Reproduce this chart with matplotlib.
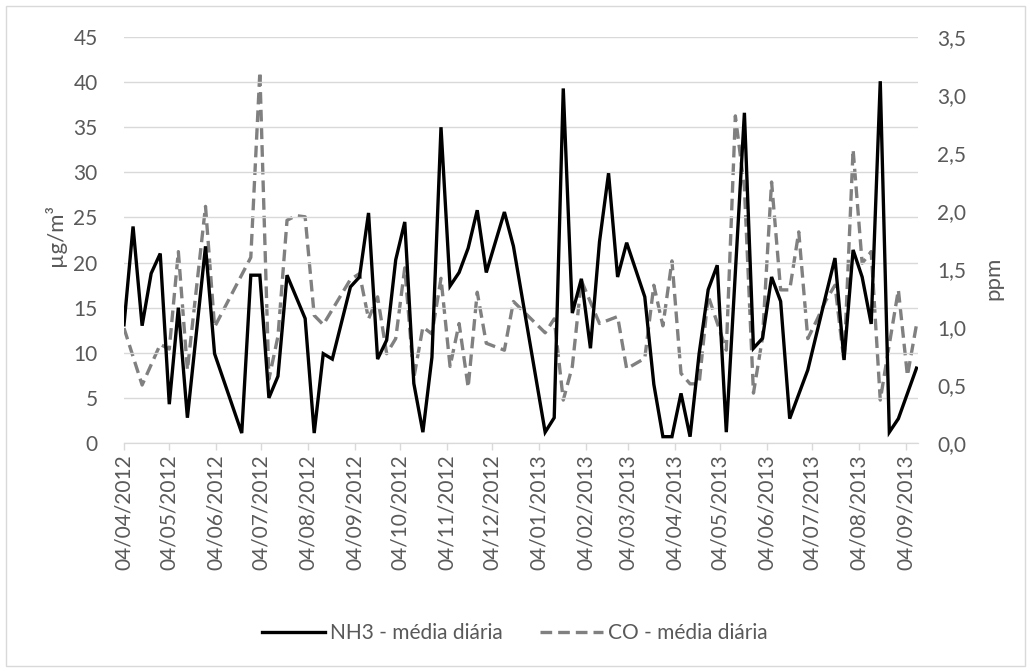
import matplotlib
matplotlib.use("Agg")
import matplotlib.pyplot as plt
import matplotlib.dates as mdates
from matplotlib.patches import Rectangle
from matplotlib.lines import Line2D
from matplotlib.ticker import FuncFormatter
import pandas as pd

# NH3 (µg/m³) - média diária
nh3_dates = [
    "2012-04-04", "2012-04-10", "2012-04-16", "2012-04-22", "2012-04-28",
    "2012-05-04", "2012-05-10", "2012-05-16", "2012-05-28", "2012-06-03",
    "2012-06-21", "2012-06-27", "2012-07-03", "2012-07-09", "2012-07-15",
    "2012-07-21", "2012-08-02", "2012-08-08", "2012-08-14", "2012-08-20",
    "2012-09-01", "2012-09-07", "2012-09-13", "2012-09-19", "2012-09-25",
    "2012-10-01", "2012-10-07", "2012-10-13", "2012-10-19", "2012-10-25",
    "2012-10-31", "2012-11-06", "2012-11-12", "2012-11-18", "2012-11-24",
    "2012-11-30", "2012-12-12", "2012-12-18", "2013-01-08", "2013-01-14",
    "2013-01-20", "2013-01-26", "2013-02-01", "2013-02-07", "2013-02-13",
    "2013-02-19", "2013-02-25", "2013-03-03", "2013-03-15", "2013-03-21",
    "2013-03-27", "2013-04-02", "2013-04-08", "2013-04-14", "2013-04-20",
    "2013-04-26", "2013-05-02", "2013-05-08", "2013-05-20", "2013-05-26",
    "2013-06-01", "2013-06-07", "2013-06-13", "2013-06-19", "2013-07-01",
    "2013-07-13", "2013-07-19", "2013-07-25", "2013-07-31", "2013-08-06",
    "2013-08-12", "2013-08-18", "2013-08-24", "2013-08-30", "2013-09-11",
]
nh3_vals = [
    13.1, 24.0, 13.0, 18.8, 21.0,
    4.3, 15.0, 2.8, 21.8, 9.9,
    1.1, 18.6, 18.6, 5.0, 7.4,
    18.6, 13.8, 1.1, 9.9, 9.3,
    17.3, 18.4, 25.5, 9.3, 11.4,
    20.3, 24.5, 6.6, 1.2, 9.5,
    35.0, 17.4, 18.9, 21.6, 25.8,
    18.9, 25.6, 21.8, 1.2, 2.8,
    39.3, 14.4, 18.2, 10.5, 22.3,
    29.9, 18.4, 22.2, 16.2, 6.5,
    0.7, 0.7, 5.5, 0.7, 9.9,
    17.0, 19.7, 1.2, 36.6, 10.5,
    11.6, 18.4, 15.7, 2.7, 8.1,
    16.4, 20.5, 9.2, 21.4, 18.4,
    13.2, 40.1, 1.2, 2.7, 8.3,
]

# CO (ppm) - média diária
co_dates = [
    "2012-04-04", "2012-04-16", "2012-04-28", "2012-05-04", "2012-05-10",
    "2012-05-16", "2012-05-28", "2012-06-03", "2012-06-27", "2012-07-03",
    "2012-07-09", "2012-07-15", "2012-07-21", "2012-07-27", "2012-08-02",
    "2012-08-08", "2012-08-14", "2012-09-01", "2012-09-07", "2012-09-13",
    "2012-09-19", "2012-09-25", "2012-10-01", "2012-10-07", "2012-10-13",
    "2012-10-19", "2012-10-25", "2012-10-31", "2012-11-06", "2012-11-12",
    "2012-11-18", "2012-11-24", "2012-11-30", "2012-12-12", "2012-12-18",
    "2013-01-08", "2013-01-14", "2013-01-20", "2013-01-26", "2013-02-01",
    "2013-02-13", "2013-02-25", "2013-03-03", "2013-03-15", "2013-03-21",
    "2013-03-27", "2013-04-02", "2013-04-08", "2013-04-14", "2013-04-20",
    "2013-04-26", "2013-05-08", "2013-05-14", "2013-05-20", "2013-05-26",
    "2013-06-01", "2013-06-07", "2013-06-13", "2013-06-19", "2013-06-25",
    "2013-07-01", "2013-07-07", "2013-07-13", "2013-07-19", "2013-07-25",
    "2013-07-31", "2013-08-06", "2013-08-12", "2013-08-18", "2013-08-24",
    "2013-08-30", "2013-09-05", "2013-09-11",
]
co_vals = [
    0.99, 0.50, 0.85, 0.81, 1.65,
    0.63, 2.04, 1.00, 1.60, 3.20,
    0.55, 0.92, 1.92, 1.96, 1.95,
    1.10, 1.02, 1.41, 1.46, 1.07,
    1.26, 0.77, 0.90, 1.51, 0.56,
    1.00, 0.94, 1.42, 0.66, 1.03,
    0.48, 1.30, 0.86, 0.80, 1.22,
    0.95, 1.07, 0.37, 0.66, 1.40,
    1.03, 1.09, 0.64, 0.73, 1.36,
    1.01, 1.57, 0.60, 0.51, 0.51,
    1.27, 0.80, 2.82, 2.20, 0.43,
    0.91, 2.25, 1.32, 1.32, 1.82,
    0.90, 1.06, 1.23, 1.36, 0.70,
    2.53, 1.55, 1.65, 0.37, 0.85,
    1.32, 0.58, 1.02,
]

# eixo x mensal, sempre no dia 4
month_ticks = pd.date_range("2012-04-04", "2013-09-04", freq=pd.DateOffset(months=1))

TXT = "#595959"
GRID = "#d9d9d9"
FONT = "Lato"
FS = 15

plt.rcParams["font.family"] = [FONT, "DejaVu Sans"]

fig = plt.figure(figsize=(10.3, 6.71), dpi=100)
W, H = 1030, 671
ax = fig.add_axes([124 / W, 1 - 443 / H, (918 - 124) / W, (443 - 37) / H])
ax2 = ax.twinx()

nh3_x = pd.to_datetime(nh3_dates)
co_x = pd.to_datetime(co_dates)

ax.plot(nh3_x, nh3_vals, color="black", lw=2.4, solid_joinstyle="miter", zorder=3)
ax2.plot(co_x, co_vals, color="#808080", lw=2.4, dashes=(3.5, 1.8), zorder=2)

ax.set_xlim(pd.Timestamp("2012-04-04"), pd.Timestamp("2013-09-12"))
ax.set_ylim(0, 45)
ax.set_yticks(range(0, 46, 5))
ax2.set_ylim(0, 3.5)
ax2.set_yticks([i * 0.5 for i in range(8)])
ax2.yaxis.set_major_formatter(FuncFormatter(lambda v, p: f"{v:.1f}".replace(".", ",")))

ax.set_xticks(month_ticks)
ax.xaxis.set_major_formatter(mdates.DateFormatter("%d/%m/%Y"))
ax.tick_params(axis="x", rotation=90, length=5, width=1, color=GRID,
               labelcolor=TXT, labelsize=FS, pad=3)
ax.tick_params(axis="y", length=0, labelcolor=TXT, labelsize=FS, pad=19)
ax2.tick_params(axis="y", length=0, labelcolor=TXT, labelsize=FS, pad=14)

ax.grid(axis="y", color=GRID, lw=1)
ax.set_axisbelow(True)
for a in (ax, ax2):
    for s in ("top", "left", "right"):
        a.spines[s].set_visible(False)
    a.spines["bottom"].set_color(GRID)
ax.set_zorder(ax2.get_zorder() + 1)
ax.patch.set_visible(False)

fig.text(55 / W, 1 - 235 / H, "µg/m³", rotation=90, color=TXT, fontsize=FS + 1,
         ha="center", va="center")
fig.text(993 / W, 1 - 278 / H, "ppm", rotation=90, color=TXT, fontsize=FS + 1,
         ha="center", va="center")

handles = [
    Line2D([], [], color="black", lw=2.4),
    Line2D([], [], color="#808080", lw=2.4, dashes=(3.5, 1.8)),
]
fig.legend(handles, ["NH3 - média diária", "CO - média diária"],
           loc="center", bbox_to_anchor=(0.5, 1 - 633 / H), ncol=2, frameon=False,
           fontsize=FS, labelcolor=TXT, handlelength=3.0, handletextpad=0.25,
           columnspacing=1.8)

# borda externa do gráfico
fig.patches.append(Rectangle((5.5 / W, 5.5 / H), 1 - 11 / W, 1 - 11 / H,
                             transform=fig.transFigure, fill=False,
                             edgecolor=GRID, lw=1))

fig.savefig("out.png", dpi=100)
